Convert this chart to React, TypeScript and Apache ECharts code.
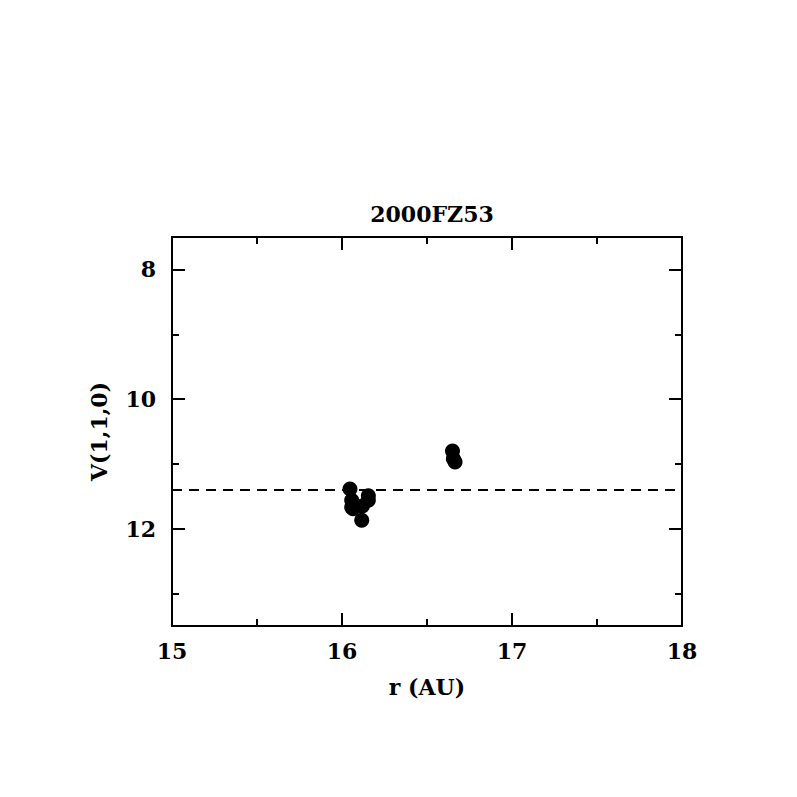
import React, { useEffect, useRef } from "react";
import * as echarts from "echarts";

const title = "2000FZ53";
const xName = "r (AU)";
const yName = "V(1,1,0)";
const rValues = [16.047, 16.057, 16.057, 16.065, 16.155, 16.155, 16.12, 16.116, 16.65, 16.655, 16.665];
const vValues = [11.385, 11.56, 11.67, 11.69, 11.49, 11.56, 11.65, 11.87, 10.8, 10.92, 10.97];
const meanV = 11.4;
const xMin = 15, xMax = 18;
const yMin = 7.5, yMax = 13.5;
const yMajor = [8, 10, 12];
const yMinor = [9, 11, 13];

const FONT = "DejaVu Serif";

export default function App() {
  const ref = useRef<HTMLDivElement>(null);
  useEffect(() => {
    const chart = echarts.init(ref.current!, null, { renderer: "svg" });
    const line = { show: true, lineStyle: { color: "#000", width: 2 } };
    const yAxisBase = (pos: string, vals: number[], len: number, labels: boolean, name?: string) => ({
      type: "value",
      position: pos,
      min: yMin,
      max: yMax,
      inverse: true,
      axisLine: line,
      splitLine: { show: false },
      axisTick: { show: true, inside: true, length: len, customValues: vals, lineStyle: { color: "#000", width: 2 } },
      axisLabel: labels
        ? { show: true, customValues: vals, color: "#000", fontFamily: FONT, fontSize: 22, fontWeight: "bold", margin: 16 }
        : { show: false },
      name: name,
      nameLocation: "middle",
      nameGap: 62,
      nameRotate: 90,
      nameTextStyle: { color: "#000", fontFamily: FONT, fontSize: 22, fontWeight: "bold" },
    });
    const xAxisBase = (pos: string, labels: boolean, name?: string) => ({
      type: "value",
      position: pos,
      min: xMin,
      max: xMax,
      interval: 1,
      axisLine: line,
      splitLine: { show: false },
      axisTick: { show: true, inside: true, length: 13, lineStyle: { color: "#000", width: 2 } },
      minorTick: { show: true, splitNumber: 2, length: 7, lineStyle: { color: "#000", width: 2 } },
      minorSplitLine: { show: false },
      axisLabel: labels
        ? { show: true, color: "#000", fontFamily: FONT, fontSize: 22, fontWeight: "bold", margin: 14 }
        : { show: false },
      name: name,
      nameLocation: "middle",
      nameGap: 50,
      nameTextStyle: { color: "#000", fontFamily: FONT, fontSize: 22, fontWeight: "bold" },
    });
    chart.setOption({
      animation: false,
      backgroundColor: "#fff",
      title: {
        text: title,
        left: 427,
        textAlign: "center",
        top: 198,
        textStyle: { color: "#000", fontFamily: FONT, fontSize: 22, fontWeight: "bold" },
      },
      grid: { left: 172, top: 237, width: 510, height: 389 },
      xAxis: [xAxisBase("bottom", true, xName), xAxisBase("top", false)],
      yAxis: [
        yAxisBase("left", yMajor, 13, true, yName),
        yAxisBase("left", yMinor, 7, false),
        yAxisBase("right", yMajor, 13, false),
        yAxisBase("right", yMinor, 7, false),
      ],
      series: [
        {
          type: "scatter",
          xAxisIndex: 0,
          yAxisIndex: 0,
          symbol: "circle",
          symbolSize: 15,
          itemStyle: { color: "#000", opacity: 1 },
          data: rValues.map((r, i) => [r, vValues[i]]),
          markLine: {
            silent: true,
            symbol: "none",
            label: { show: false },
            lineStyle: { color: "#000", width: 2, type: [10, 7] },
            data: [[{ coord: [xMin, meanV] }, { coord: [xMax, meanV] }]],
          },
        },
      ],
    });
    return () => chart.dispose();
  }, []);
  return <div ref={ref} style={{ position: "fixed", left: 0, top: 0, width: 797, height: 797 }} />;
}
